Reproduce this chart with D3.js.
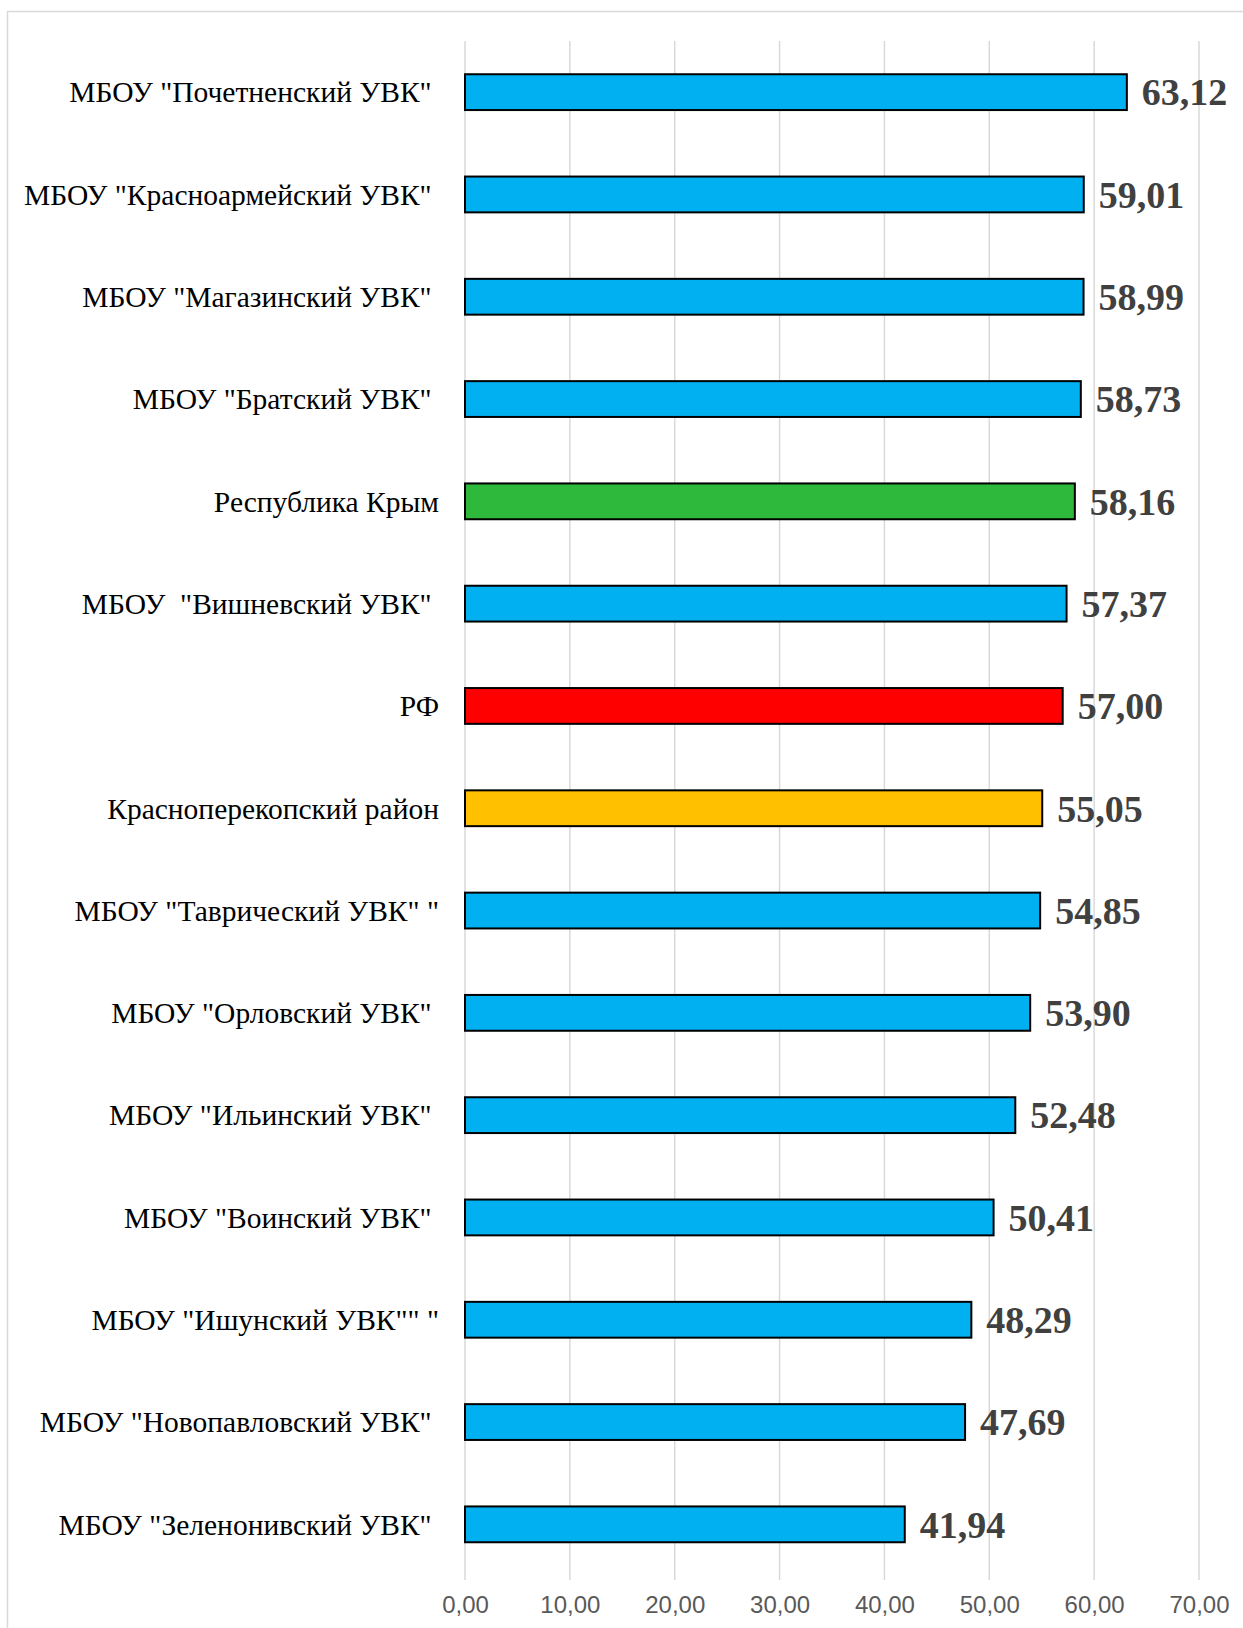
<!DOCTYPE html>
<html>
<head>
<meta charset="utf-8">
<script src="https://cdn.jsdelivr.net/npm/d3@7"></script>
<style>
  body { margin: 0; background: #fff; }
  text { white-space: pre; }
</style>
</head>
<body>
<div id="drawing"></div>
<script>
// chart data, top to bottom
const categories = [
  'МБОУ "Почетненский УВК" ',
  'МБОУ "Красноармейский УВК" ',
  'МБОУ "Магазинский УВК" ',
  'МБОУ "Братский УВК" ',
  'Республика Крым',
  'МБОУ  "Вишневский УВК" ',
  'РФ',
  'Красноперекопский район',
  'МБОУ "Таврический УВК" "',
  'МБОУ "Орловский УВК" ',
  'МБОУ "Ильинский УВК" ',
  'МБОУ "Воинский УВК" ',
  'МБОУ "Ишунский УВК"" "',
  'МБОУ "Новопавловский УВК" ',
  'МБОУ "Зеленонивский УВК" '
];
const values = [63.12, 59.01, 58.99, 58.73, 58.16, 57.37, 57.00, 55.05, 54.85, 53.90, 52.48, 50.41, 48.29, 47.69, 41.94];
const barColors = ["#00B0F0", "#00B0F0", "#00B0F0", "#00B0F0", "#2EB83C", "#00B0F0", "#FF0000", "#FFC000",
  "#00B0F0", "#00B0F0", "#00B0F0", "#00B0F0", "#00B0F0", "#00B0F0", "#00B0F0"];
const tickValues = [0, 10, 20, 30, 40, 50, 60, 70];

const width = 1243;
const height = 1628;
const plot = {left: 465, right: 1199, top: 41, bottom: 1580};

const fmt = (v) => v.toFixed(2).replace(".", ",");

const svg = d3.select("#drawing").append("svg")
  .attr("width", width)
  .attr("height", height);

// chart area border
svg.append("rect")
  .attr("x", 7.5).attr("y", 11.5)
  .attr("width", width + 10).attr("height", height + 10)
  .attr("fill", "#fff")
  .attr("stroke", "#D9D9D9")
  .attr("stroke-width", 1.5);

const xScale = d3.scaleLinear()
  .domain([0, 70])
  .range([plot.left, plot.right]);

const yScale = d3.scaleBand()
  .domain(categories)
  .range([plot.top, 1575.5])
  .paddingInner(0.65)
  .paddingOuter(0.325);

// vertical gridlines
svg.append("g")
  .selectAll("line")
  .data(tickValues)
  .join("line")
  .attr("x1", (d) => xScale(d)).attr("x2", (d) => xScale(d))
  .attr("y1", plot.top).attr("y2", plot.bottom)
  .attr("stroke", "#D9D9D9")
  .attr("stroke-width", 1.5);

// x axis labels
const xAxis = svg.append("g")
  .attr("transform", `translate(0, ${plot.bottom})`)
  .call(d3.axisBottom(xScale).tickValues(tickValues).tickFormat(fmt).tickSize(0).tickPadding(16));
xAxis.select(".domain").remove();
xAxis.selectAll("text")
  .attr("fill", "#595959")
  .style("font-family", "'Liberation Sans Narrow', 'Arial Narrow', sans-serif")
  .style("font-size", "24px");

// bars
svg.append("g")
  .selectAll("rect")
  .data(values)
  .join("rect")
  .attr("x", xScale(0))
  .attr("y", (d, i) => yScale(categories[i]))
  .attr("width", (d) => xScale(d) - xScale(0))
  .attr("height", yScale.bandwidth())
  .attr("fill", (d, i) => barColors[i])
  .attr("stroke", "#000")
  .attr("stroke-width", 2);

// category labels
svg.append("g")
  .selectAll("text")
  .data(categories)
  .join("text")
  .attr("x", 439)
  .attr("y", (d) => yScale(d) + yScale.bandwidth() / 2)
  .attr("dy", "0.35em")
  .attr("text-anchor", "end")
  .attr("fill", "#000")
  .style("font-family", "'Liberation Serif', 'Times New Roman', serif")
  .style("font-size", "29.5px")
  .text((d) => d);

// value labels
svg.append("g")
  .selectAll("text")
  .data(values)
  .join("text")
  .attr("x", (d) => xScale(d) + 15)
  .attr("y", (d, i) => yScale(categories[i]) + yScale.bandwidth() / 2)
  .attr("dy", "0.35em")
  .attr("fill", "#404040")
  .style("font-family", "'Liberation Serif', 'Times New Roman', serif")
  .style("font-weight", "bold")
  .style("font-size", "38px")
  .text((d) => fmt(d));
</script>
</body>
</html>
